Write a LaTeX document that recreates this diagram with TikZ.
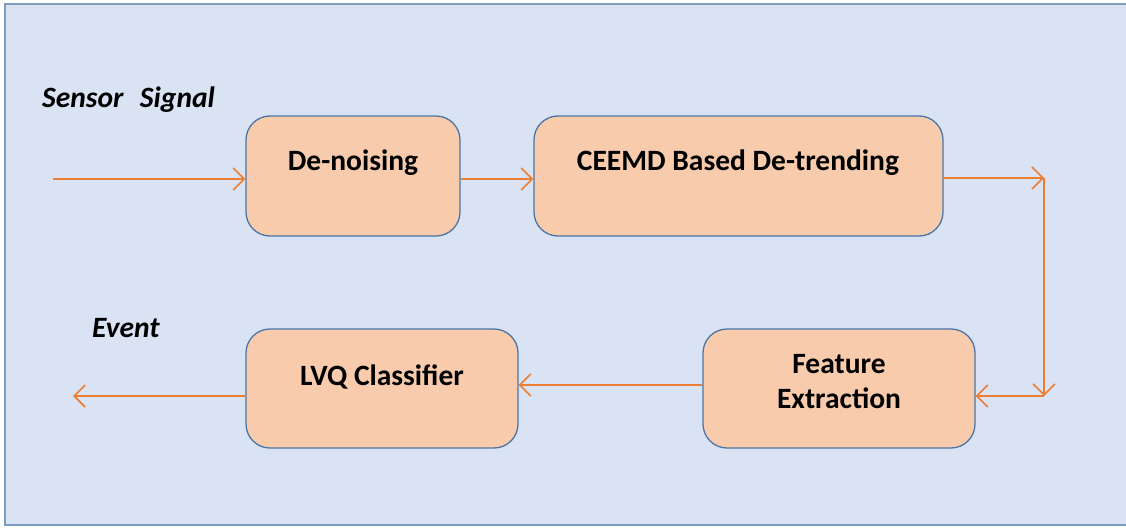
\documentclass[tikz,border=0pt]{standalone}
\usepackage{fontspec}
\setmainfont{Carlito}
\usetikzlibrary{arrows.meta,calc}
\definecolor{bgblue}{HTML}{DAE3F3}
\definecolor{bgborder}{HTML}{7F9BC0}
\definecolor{boxfill}{HTML}{F8CBAD}
\definecolor{boxborder}{HTML}{4A76A8}
\definecolor{arr}{HTML}{ED7D31}
\tikzset{
  stagebox/.style={draw=boxborder, line width=1.3pt, fill=boxfill, rounded corners=24pt, inner sep=0pt},
  boxtext/.style={font=\fontsize{29.5}{35}\selectfont\bfseries, text=black, align=center, inner sep=0pt},
  lbl/.style={font=\fontsize{29.5}{35}\selectfont\bfseries\itshape, text=black, inner sep=0pt, anchor=west},
  flow/.style={draw=arr, line width=1.6pt, -{Straight Barb[length=11pt,width=22pt,line width=1.6pt]}}
}
\begin{document}
\begin{tikzpicture}[x=1pt,y=-1pt]
\useasboundingbox (0,0) rectangle (1126,527);
\begin{scope}
\clip (0,0) rectangle (1126,527);
\draw[fill=bgblue, draw=bgborder, line width=2pt] (5,4) rectangle (1135,525);
\end{scope}
% boxes
\node[stagebox, minimum width=214pt, minimum height=120pt] (dn) at (353,176) {};
\node[stagebox, minimum width=409pt, minimum height=120pt] (ce) at (738.5,176) {};
\node[stagebox, minimum width=272pt, minimum height=119pt] (fe) at (839,388.5) {};
\node[stagebox, minimum width=272pt, minimum height=119pt] (lvq) at (382,388.5) {};
% texts
\node[boxtext] (dnt) at (353,163) {De-noising};
\node[boxtext] (cet) at (738,163) {CEEMD Based De-trending};
\node[boxtext] (fet) at (839,382) {Feature\\Extraction};
\node[boxtext] (lvqt) at (382,377) {LVQ Classifier};
\node[lbl] (ss) at (42,100) {Sensor\,\, Signal};
\node[lbl] (ev) at (92,328) {Event};
% coordinates
\coordinate (in) at (53,179);
\coordinate (c1) at (1044,178);
\coordinate (c2) at (1044,396);
\coordinate (out) at (73,396);
% connectors
\draw[flow] (in) -- (dn.west |- in);
\draw[flow] (dn.east |- in) -- (ce.west |- in);
\draw[flow] (ce.east |- c1) -- (c1);
\draw[flow] (c1) -- (c2);
\draw[flow] (c2) -- (fe.east |- c2);
\draw[flow] (fe.west |- 0,385) -- (lvq.east |- 0,385);
\draw[flow] (lvq.west |- out) -- (out);
\end{tikzpicture}
\end{document}
